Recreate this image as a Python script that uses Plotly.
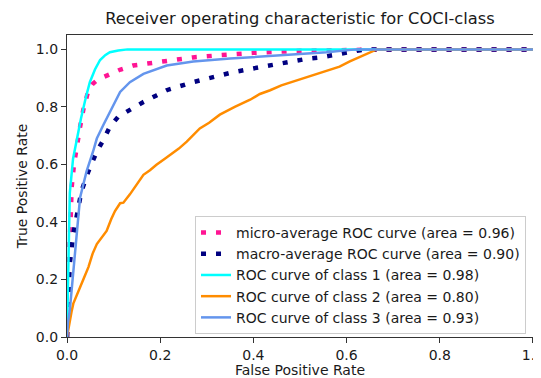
import plotly.graph_objects as go

# ---- data ----
micro_fpr = [0, 0.002, 0.005, 0.008, 0.01, 0.015, 0.021, 0.028, 0.035, 0.046, 0.055, 0.064, 0.08, 0.092,
             0.115, 0.142, 0.18, 0.214, 0.27, 0.33, 0.4, 0.5, 0.6, 0.7, 1.0]
micro_tpr = [0, 0.15, 0.3, 0.42, 0.52, 0.6, 0.67, 0.73, 0.79, 0.858, 0.88, 0.892, 0.905, 0.915,
             0.93, 0.944, 0.953, 0.961, 0.972, 0.98, 0.988, 0.995, 0.999, 1.0, 1.0]

macro_fpr = [0, 0.003, 0.006, 0.0135, 0.019, 0.024, 0.031, 0.046, 0.064, 0.078, 0.092, 0.11, 0.132, 0.164,
             0.192, 0.214, 0.27, 0.30, 0.357, 0.414, 0.479, 0.514, 0.543, 0.571, 0.6, 0.64, 1.0]
macro_tpr = [0, 0.15, 0.255, 0.358, 0.403, 0.455, 0.507, 0.576, 0.645, 0.685, 0.731, 0.766, 0.788, 0.817,
             0.84, 0.858, 0.886, 0.898, 0.921, 0.938, 0.958, 0.967, 0.972, 0.98, 0.99, 1.0, 1.0]

c1_fpr = [0, 0.002, 0.004, 0.006, 0.013, 0.021, 0.03, 0.04, 0.049, 0.06, 0.071, 0.082, 0.092, 0.11, 0.13, 1.0]
c1_tpr = [0, 0.2, 0.4, 0.5, 0.62, 0.69, 0.76, 0.83, 0.886, 0.93, 0.963, 0.98, 0.99, 0.996, 1.0, 1.0]

c2_fpr = [0, 0.003, 0.006, 0.01, 0.0135, 0.02, 0.028, 0.035, 0.046, 0.055, 0.064, 0.075, 0.085, 0.095,
          0.103, 0.114, 0.121, 0.135, 0.15, 0.164, 0.178, 0.192, 0.21, 0.221, 0.24, 0.257, 0.27, 0.285,
          0.305, 0.328, 0.36, 0.393, 0.414, 0.436, 0.46, 0.486, 0.52, 0.557, 0.585, 0.607, 0.63, 0.65,
          0.665, 1.0]
c2_tpr = [0, 0.03, 0.058, 0.09, 0.116, 0.14, 0.173, 0.2, 0.243, 0.29, 0.323, 0.345, 0.369, 0.41,
          0.438, 0.465, 0.467, 0.496, 0.53, 0.564, 0.58, 0.599, 0.62, 0.633, 0.655, 0.679, 0.7, 0.725,
          0.745, 0.773, 0.8, 0.825, 0.845, 0.858, 0.875, 0.888, 0.905, 0.925, 0.94, 0.958, 0.975, 0.99,
          1.0, 1.0]

c3_fpr = [0, 0.002, 0.006, 0.012, 0.017, 0.022, 0.028, 0.035, 0.042, 0.056, 0.064, 0.078, 0.092, 0.103,
          0.114, 0.135, 0.164, 0.214, 0.271, 0.35, 0.414, 0.486, 0.557, 0.62, 1.0]
c3_tpr = [0, 0.05, 0.093, 0.2, 0.3, 0.39, 0.484, 0.53, 0.576, 0.645, 0.69, 0.737, 0.783, 0.82,
          0.852, 0.886, 0.915, 0.944, 0.958, 0.968, 0.975, 0.982, 0.99, 1.0, 1.0]

names = ["micro-average ROC curve (area = 0.96)",
         "macro-average ROC curve (area = 0.90)",
         "ROC curve of class 1 (area = 0.98)",
         "ROC curve of class 2 (area = 0.80)",
         "ROC curve of class 3 (area = 0.93)"]

tick_vals = [0.0, 0.2, 0.4, 0.6, 0.8, 1.0]
tick_text = ["0.0", "0.2", "0.4", "0.6", "0.8", "1.0"]

FONT = "DejaVu Sans"
TXT = "#1a1a1a"

# the page body adds an 8px offset, so the figure is 8px smaller than the window
W, H = 533, 370

fig = go.Figure()
fig.add_trace(go.Scatter(x=micro_fpr, y=micro_tpr, mode="lines", name=names[0],
                         line=dict(color="deeppink", width=4.5, dash="5px,10px")))
fig.add_trace(go.Scatter(x=macro_fpr, y=macro_tpr, mode="lines", name=names[1],
                         line=dict(color="navy", width=4.5, dash="5px,10px")))
fig.add_trace(go.Scatter(x=c1_fpr, y=c1_tpr, mode="lines", name=names[2],
                         line=dict(color="aqua", width=2.5)))
fig.add_trace(go.Scatter(x=c2_fpr, y=c2_tpr, mode="lines", name=names[3],
                         line=dict(color="darkorange", width=2.5)))
fig.add_trace(go.Scatter(x=c3_fpr, y=c3_tpr, mode="lines", name=names[4],
                         line=dict(color="cornflowerblue", width=2.5)))

axis_common = dict(showgrid=False, zeroline=False, showline=True, linecolor="#333", linewidth=1.3,
                   mirror=True, ticks="outside", ticklen=5, tickcolor="#333", automargin=False,
                   ticklabeloverflow="allow",
                   tickfont=dict(family=FONT, size=14, color=TXT),
                   tickvals=tick_vals, ticktext=tick_text)

fig.update_layout(
    width=W, height=H, autosize=False,
    margin=dict(l=59, r=8, t=27, b=41),
    paper_bgcolor="white", plot_bgcolor="white",
    font=dict(family=FONT, color=TXT),
    title=dict(text="Receiver operating characteristic for COCI-class",
               x=(59 + 525) / 2 / W, xanchor="center", y=1 - 10 / H, yanchor="middle",
               font=dict(family=FONT, size=16.3, color=TXT)),
    xaxis=dict(range=[0, 1.0001], title=dict(text="False Positive Rate", standoff=2,
                                             font=dict(family=FONT, size=14, color=TXT)),
               **axis_common),
    yaxis=dict(range=[0, 1.05], title=dict(text="True Positive Rate", standoff=4,
                                           font=dict(family=FONT, size=14, color=TXT)),
               **axis_common),
    legend=dict(x=0.985, xanchor="right", y=0.01, yanchor="bottom",
                bgcolor="white", bordercolor="#ccc", borderwidth=1,
                font=dict(family=FONT, size=14, color=TXT),
                tracegroupgap=0),
    showlegend=True,
)

fig.write_html("out.html")
